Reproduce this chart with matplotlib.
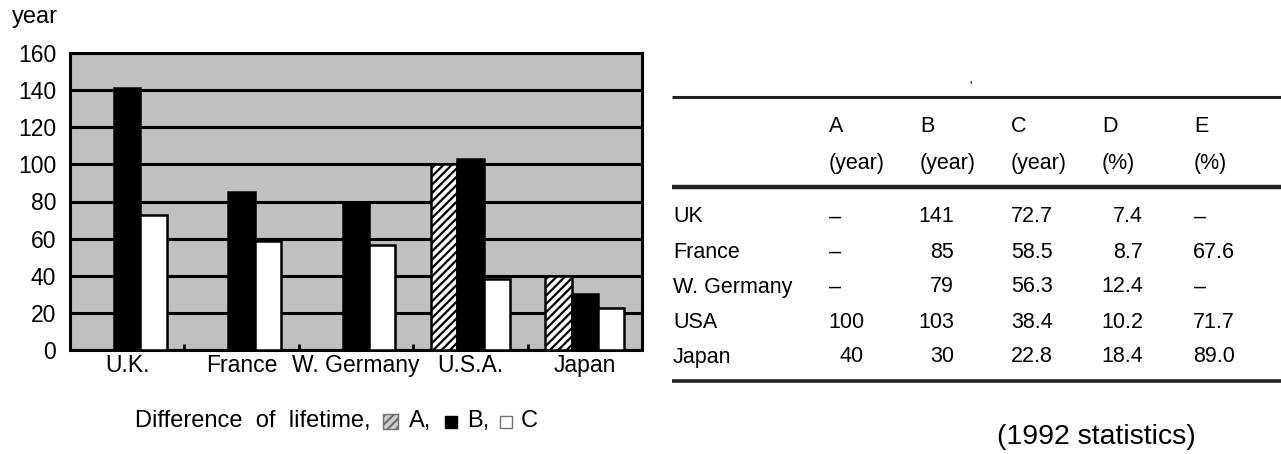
#!/usr/bin/env python3

import numpy as np
import matplotlib
matplotlib.use("Agg")
import matplotlib.pyplot as plt
from matplotlib.patches import Rectangle

plt.rcParams['font.family'] = ['Liberation Sans', 'DejaVu Sans']
plt.rcParams['hatch.linewidth'] = 1.6

# data
countries = ['U.K.', 'France', 'W. Germany', 'U.S.A.', 'Japan']
val_a = [None, None, None, 100, 40]
val_b = [141, 85, 79, 103, 30]
val_c = [72.7, 58.5, 56.3, 38.4, 22.8]
yticks = [0, 20, 40, 60, 80, 100, 120, 140, 160]

row_names = ['UK', 'France', 'W. Germany', 'USA', 'Japan']
col_names = ['A', 'B', 'C', 'D', 'E']
col_units = ['(year)', '(year)', '(year)', '(%)', '(%)']
tab_a = [None, None, None, '100', '40']
tab_b = ['141', '85', '79', '103', '30']
tab_c = ['72.7', '58.5', '56.3', '38.4', '22.8']
tab_d = ['7.4', '8.7', '12.4', '10.2', '18.4']
tab_e = [None, '67.6', None, '71.7', '89.0']

W, H = 1281, 454
fig = plt.figure(figsize=(W / 100, H / 100), dpi=100)

# ---- bar chart
ax = fig.add_axes([70 / W, 1 - 350 / H, 572 / W, 297 / H])
ax.set_facecolor('#c0c0c0')
x = np.arange(len(countries))
w = 0.23
a = np.array([np.nan if v is None else v for v in val_a], dtype=float)
ax.bar(x - w, a, w, color='white', edgecolor='black', hatch='////', linewidth=1.8, zorder=3)
ax.bar(x, val_b, w, color='black', edgecolor='black', linewidth=1.8, zorder=3)
ax.bar(x + w, val_c, w, color='white', edgecolor='black', linewidth=1.8, zorder=3)

ax.set_xlim(-0.5, len(countries) - 0.5)
ax.set_ylim(0, 160)
ax.set_yticks(yticks)
ax.yaxis.grid(True, color='black', linewidth=2.2)
ax.set_axisbelow(True)
ax.tick_params(axis='y', length=0, labelsize=16.5, pad=10)
ax.set_xticks(x)
ax.set_xticklabels(countries)
ax.tick_params(axis='x', length=0, labelsize=16.5, pad=3)
ax.set_xticks(x[:-1] + 0.5, minor=True)
ax.tick_params(axis='x', which='minor', direction='in', length=4, width=2)
for s in ax.spines.values():
    s.set_linewidth(2.2)

# ---- free text / table layer (pixel coordinates)
tx = fig.add_axes([0, 0, 1, 1])
tx.set_xlim(0, W)
tx.set_ylim(H, 0)
tx.axis('off')

tx.text(12, 17, 'year', fontsize=17, va='center', ha='left')

# legend line under the chart
tx.text(135, 421, 'Difference  of  lifetime,', fontsize=17, ha='left', va='center')
tx.add_patch(Rectangle((383, 414), 15, 15, facecolor='#d0d0d0', edgecolor='#707070',
                       hatch='////', linewidth=1))
tx.text(409, 421, 'A,', fontsize=17, ha='left', va='center')
tx.add_patch(Rectangle((445, 416), 12, 12, facecolor='black', edgecolor='black'))
tx.text(467, 421, 'B,', fontsize=17, ha='left', va='center')
tx.add_patch(Rectangle((500, 416), 12, 12, facecolor='white', edgecolor='#707070', linewidth=1))
tx.text(521, 421, 'C', fontsize=17, ha='left', va='center')

# table
fs = 15.5
for yy, lw in [(97, 2.2), (187, 3.2), (381, 2.6)]:
    tx.plot([672, W], [yy, yy], color='#222222', linewidth=lw, solid_capstyle='butt')
tx.text(971, 86, "'", fontsize=9, ha='center', va='center')

col_left = [829, 920, 1011, 1102, 1194]
col_right = [864, 954, 1053, 1143, 1235]
for i in range(len(col_names)):
    tx.text(col_left[i], 126, col_names[i], fontsize=fs, ha='left', va='center')
    tx.text(col_left[i], 163, col_units[i], fontsize=fs, ha='left', va='center')

cols = [tab_a, tab_b, tab_c, tab_d, tab_e]
row_y = [217, 252, 287, 322, 357]
for r, name in enumerate(row_names):
    tx.text(673, row_y[r], name, fontsize=fs, ha='left', va='center')
    for c in range(len(cols)):
        v = cols[c][r]
        if v is None:
            tx.text(col_left[c], row_y[r], '\u2013', fontsize=fs, ha='left', va='center')
        else:
            tx.text(col_right[c], row_y[r], v, fontsize=fs, ha='right', va='center')

tx.text(1096, 437, '(1992 statistics)', fontsize=20.5, ha='center', va='center')

fig.savefig('out.png', dpi=100)
